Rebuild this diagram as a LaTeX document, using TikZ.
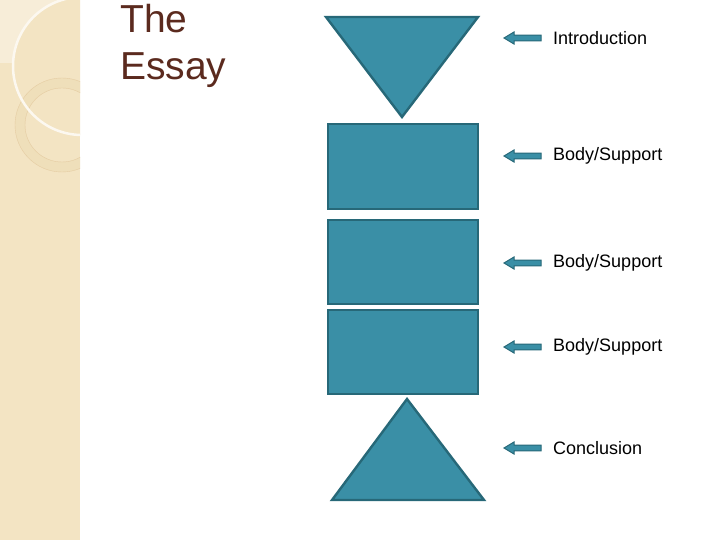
\documentclass[tikz,border=0pt]{standalone}
\usepackage{fontspec}
\setmainfont{Liberation Sans}
\begin{document}
\begin{tikzpicture}[x=1pt,y=-1pt,
  shapebox/.style={fill=tealfill,draw=tealedge,line width=2.4pt,line join=miter},
  arrowblk/.style={fill=tealfill,draw=tealedge,line width=1pt},
  lbl/.style={anchor=west,inner sep=0pt,font=\fontsize{18}{20}\selectfont,text=black},
  ttl/.style={anchor=base west,inner sep=0pt,text=titlebrown,font=\fontsize{39}{46}\selectfont}]
\definecolor{tealfill}{HTML}{3A8FA6}
\definecolor{tealedge}{HTML}{276878}
\definecolor{beige}{HTML}{F3E4C3}
\definecolor{beigelight}{HTML}{F7EDD8}
\definecolor{beigering}{HTML}{EFDFBA}
\definecolor{titlebrown}{HTML}{5B2A1E}
\useasboundingbox (0,0) rectangle (720,540);
\fill[white] (0,0) rectangle (720,540);
% left decorative strip
\begin{scope}
\clip (0,0) rectangle (80,540);
\fill[beige] (0,0) rectangle (80,540);
\fill[beigelight] (0,0) rectangle (80,63);
\fill[beige] (82,66) circle[radius=69];
\fill[beigering, even odd rule] (62,125) circle[radius=47] (62,125) circle[radius=37];
\draw[beigering!80!brown, line width=0.4pt] (62,125) circle[radius=47] (62,125) circle[radius=37];
\draw[white!75!beige, line width=2.5pt] (82,66) circle[radius=69];
\end{scope}
% title
\node[ttl] (title1) at (120,33) {The};
\node[ttl] (title2) at (120,80) {Essay};
% shapes
\filldraw[shapebox] (326,17) -- (478,17) -- (402,117) -- cycle;
\node[shapebox,minimum width=150pt,minimum height=85pt,inner sep=0pt,anchor=north west] (b1) at (327,123) {};
\node[shapebox,minimum width=150pt,minimum height=84pt,inner sep=0pt,anchor=north west] (b2) at (327,219) {};
\node[shapebox,minimum width=150pt,minimum height=84pt,inner sep=0pt,anchor=north west] (b3) at (327,309) {};
\filldraw[shapebox] (407,399) -- (484,500) -- (332,500) -- cycle;
% arrows and labels
\foreach \yy/\txt/\nm in {38/Introduction/l1,156/Body\slash Support/l2,263/Body\slash Support/l3,347/Body\slash Support/l4,448/Conclusion/l5}{
  \filldraw[arrowblk] (504,\yy) -- (514,\yy-6) -- (514,\yy-2.8) -- (541,\yy-2.8) -- (541,\yy+2.8) -- (514,\yy+2.8) -- (514,\yy+6) -- cycle;
  \node[lbl] (\nm) at (553,\yy) {\txt};
}
\end{tikzpicture}
\end{document}
